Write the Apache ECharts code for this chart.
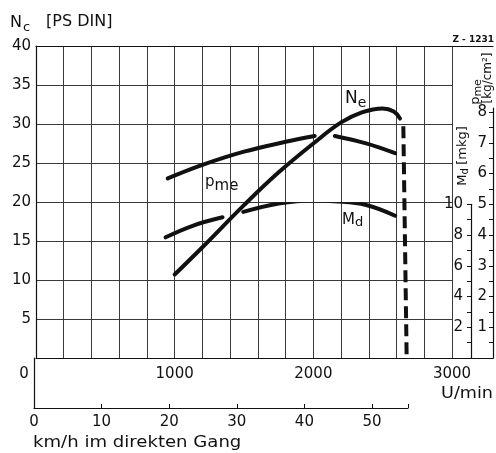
<!DOCTYPE html>
<html><head><meta charset="utf-8">
<script src="https://cdn.jsdelivr.net/npm/echarts@6/dist/echarts.min.js"></script>
<style>html,body{margin:0;padding:0;background:#fff}#c{width:496px;height:453px}</style>
</head><body><div id="c"></div>
<script>
// ---------- data ----------
const neRpm   = [1000, 1200, 1500, 1750, 2000, 2200, 2350, 2500, 2580, 2625];
const neVals  = [10.7, 14.2, 19.6, 23.8, 27.5, 30.2, 31.5, 32.0, 31.6, 30.7];
const pmeRpm  = [950, 1200, 1500, 1800, 2010, 2080, 2155, 2380, 2590];
const pmeVals = [5.84, 6.28, 6.71, 7.03, 7.22, null, 7.22, 6.98, 6.66];
const mdRpm   = [935, 1130, 1345, 1420, 1495, 1750, 2000, 2150, 2380, 2590];
const mdVals  = [7.85, 8.6, 9.15, null, 9.5, 10.05, 10.25, 10.2, 9.95, 9.25];
const cutoffRpm = [2649, 2673];
const cutoffNc  = [29.7, 0];
const rpmTickLabels = [1000, 2000, 3000];
const ncTickLabels  = [5, 10, 15, 20, 25, 30, 35, 40];
const pmeTickLabels = [1, 2, 3, 4, 5, 6, 7, 8];
const mdTickLabels  = [2, 4, 6, 8, 10];
const kmhTickLabels = [0, 10, 20, 30, 40, 50];

// ---------- chart ----------
const F = 'DejaVu Sans';
const INK = '#111';
const GRIDC = '#3a3a3a';
const pair = (xs, ys) => xs.map((x, i) => [x, ys[i] == null ? '-' : ys[i]]);
const only = list => v => (list.indexOf(Math.round(v * 1000) / 1000) >= 0 ? String(Math.round(v)) : '');
const LINE = {show: true, onZero: false, lineStyle: {color: INK, width: 1.2}};

const chart = echarts.init(document.getElementById('c'), null, {renderer: 'canvas'});
const hiddenX = (g, max) => ({type: 'value', gridIndex: g, min: 0, max: max, show: false});
const hiddenY = (g, max) => ({type: 'value', gridIndex: g, min: 0, max: max, show: false});

// pixel scale: 1000 rpm = 416/3 px ; pme 1 = 30.75 px ; Md 1 = 15.375 px
const option = {
  animation: false,
  backgroundColor: '#fff',
  grid: [
    {left: 36, top: 46, width: 416, height: 312},          // main rpm / Nc
    {left: 36, top: 46, width: 457, height: 312},          // frame
    {left: 36, top: 108, width: 457, height: 250},         // pme
    {left: 36, top: 204.25, width: 435, height: 153.75},   // Md
    {left: 34, top: 358, width: 374, height: 50}           // km/h
  ],
  xAxis: [
    {type: 'value', gridIndex: 0, min: 0, max: 3000, interval: 200,
     axisLine: {show: false}, axisTick: {show: false},
     splitLine: {show: true, lineStyle: {color: GRIDC, width: 1}},
     axisLabel: {formatter: only(rpmTickLabels), margin: 9, fontSize: 15, fontFamily: F, color: INK}},
    {type: 'value', gridIndex: 1, min: 0, max: 1, position: 'bottom',
     axisLine: LINE, axisTick: {show: false}, axisLabel: {show: false}, splitLine: {show: false}},
    {type: 'value', gridIndex: 1, min: 0, max: 1, position: 'top',
     axisLine: LINE, axisTick: {show: false}, axisLabel: {show: false}, splitLine: {show: false}},
    hiddenX(2, 3000 * 457 / 416),
    hiddenX(3, 3000 * 435 / 416),
    {type: 'value', gridIndex: 4, min: 0, max: 374 / 6.76, interval: 10, position: 'bottom',
     axisLine: LINE,
     axisTick: {show: true, inside: true, length: 4, lineStyle: {color: INK}},
     splitLine: {show: false},
     axisLabel: {formatter: only(kmhTickLabels), margin: 7, fontSize: 15, fontFamily: F, color: INK}}
  ],
  yAxis: [
    {type: 'value', gridIndex: 0, min: 0, max: 40, interval: 5,
     axisLine: LINE, axisTick: {show: false},
     splitLine: {show: true, lineStyle: {color: GRIDC, width: 1}},
     axisLabel: {formatter: only(ncTickLabels), margin: 5, fontSize: 15, fontFamily: F, color: INK}},
    hiddenY(1, 1),
    {type: 'value', gridIndex: 2, min: 0, max: 250 / 30.75, position: 'right',
     axisLine: LINE,
     axisTick: {show: true, inside: true, length: 4, lineStyle: {color: INK},
                customValues: Array.from({length: 16}, (_, i) => (i + 1) / 2)},
     splitLine: {show: false},
     axisLabel: {inside: true, margin: 6, customValues: pmeTickLabels, fontSize: 15, fontFamily: F, color: INK}},
    {type: 'value', gridIndex: 3, min: 0, max: 10, interval: 1, position: 'right',
     axisLine: LINE,
     axisTick: {show: true, inside: true, length: 4, lineStyle: {color: INK}},
     splitLine: {show: false},
     axisLabel: {inside: true, margin: 8, customValues: mdTickLabels, fontSize: 15, fontFamily: F, color: INK}},
    {type: 'value', gridIndex: 4, min: 0, max: 1, position: 'left',
     axisLine: LINE, axisTick: {show: false}, axisLabel: {show: false}, splitLine: {show: false}}
  ],
  series: [
    {name: 'Ne', type: 'line', xAxisIndex: 0, yAxisIndex: 0, data: pair(neRpm, neVals),
     smooth: 0.4, showSymbol: false, symbol: 'none', z: 5,
     lineStyle: {color: INK, width: 4, cap: 'round'}},
    {name: 'cutoff', type: 'line', xAxisIndex: 0, yAxisIndex: 0, data: pair(cutoffRpm, cutoffNc),
     showSymbol: false, symbol: 'none', z: 5,
     lineStyle: {color: INK, width: 4, type: [12, 6], dashOffset: 0, cap: 'butt'}},
    {name: 'pme', type: 'line', xAxisIndex: 3, yAxisIndex: 2, data: pair(pmeRpm, pmeVals),
     smooth: 0.4, connectNulls: false, showSymbol: false, symbol: 'none', z: 5,
     lineStyle: {color: INK, width: 4, cap: 'round'}},
    {name: 'Md', type: 'line', xAxisIndex: 4, yAxisIndex: 3, data: pair(mdRpm, mdVals),
     smooth: 0.4, connectNulls: false, showSymbol: false, symbol: 'none', z: 5,
     lineStyle: {color: INK, width: 4, cap: 'round'}}
  ],
  graphic: [
    {type: 'text', x: 10, y: 23, style: {
      text: '{n|N}{s|c}', fill: INK, align: 'left', verticalAlign: 'middle',
      rich: {n: {fontSize: 16, fontFamily: F, lineHeight: 16, verticalAlign: 'top'},
             s: {fontSize: 13, fontFamily: F, lineHeight: 13, verticalAlign: 'top', padding: [6, 0, 0, 1]}}}},
    {type: 'text', x: 46, y: 22, scaleX: 1.0, style: {text: '[PS DIN]', fill: INK, fontSize: 16, fontFamily: F,
      align: 'left', verticalAlign: 'middle'}},
    {type: 'text', x: 494, y: 40, style: {text: 'Z - 1231', fill: INK, fontSize: 9, fontWeight: 'bold',
      fontFamily: F, align: 'right', verticalAlign: 'middle'}},
    {type: 'text', x: 24, y: 374, style: {text: '0', fill: INK, fontSize: 15, fontFamily: F,
      align: 'center', verticalAlign: 'middle'}},
    {type: 'text', x: 493, y: 394, scaleX: 1.1, style: {text: 'U/min', fill: INK, fontSize: 16, fontFamily: F,
      align: 'right', verticalAlign: 'middle'}},
    {type: 'text', x: 33, y: 443, scaleX: 1.13, style: {text: 'km/h im direkten Gang', fill: INK, fontSize: 16, fontFamily: F,
      align: 'left', verticalAlign: 'middle'}},
    {type: 'text', x: 345, y: 99, style: {
      text: '{n|N}{s|e}', fill: INK, align: 'left', verticalAlign: 'middle',
      rich: {n: {fontSize: 17, fontFamily: F, lineHeight: 17, verticalAlign: 'top'},
             s: {fontSize: 14, fontFamily: F, lineHeight: 14, verticalAlign: 'top', padding: [6, 0, 0, 0]}}}},
    {type: 'text', x: 205, y: 182, style: {
      text: '{n|p}{s|me}', fill: INK, align: 'left', verticalAlign: 'middle',
      rich: {n: {fontSize: 15, fontFamily: F, lineHeight: 15, verticalAlign: 'top'},
             s: {fontSize: 15, fontFamily: F, lineHeight: 15, verticalAlign: 'top', padding: [4, 0, 0, 0]}}}},
    {type: 'text', x: 342, y: 220, style: {
      text: '{n|M}{s|d}', fill: INK, align: 'left', verticalAlign: 'middle',
      rich: {n: {fontSize: 15, fontFamily: F, lineHeight: 15, verticalAlign: 'top'},
             s: {fontSize: 13, fontFamily: F, lineHeight: 13, verticalAlign: 'top', padding: [4, 0, 0, 0]}}}},
    {type: 'text', x: 463, y: 156, rotation: Math.PI / 2, style: {
      text: '{n|M}{s|d} {u|[mkg]}', fill: INK, align: 'center', verticalAlign: 'middle',
      rich: {n: {fontSize: 13, fontFamily: F, lineHeight: 13, verticalAlign: 'top'},
             s: {fontSize: 10, fontFamily: F, lineHeight: 10, verticalAlign: 'top', padding: [4, 0, 0, 0]},
             u: {fontSize: 13, fontFamily: F, lineHeight: 13, verticalAlign: 'top'}}}},
    {type: 'text', x: 476, y: 92, rotation: Math.PI / 2, style: {
      text: '{n|p}{s|me}', fill: INK, align: 'center', verticalAlign: 'middle',
      rich: {n: {fontSize: 13, fontFamily: F, lineHeight: 13, verticalAlign: 'top'},
             s: {fontSize: 11, fontFamily: F, lineHeight: 11, verticalAlign: 'top', padding: [3, 0, 0, 0]}}}},
    {type: 'text', x: 488, y: 78, rotation: Math.PI / 2, style: {
      text: '[kg/cm²]', fill: INK, fontSize: 12, fontFamily: F, align: 'center', verticalAlign: 'middle'}}
  ]
};
chart.setOption(option);
</script></body></html>
